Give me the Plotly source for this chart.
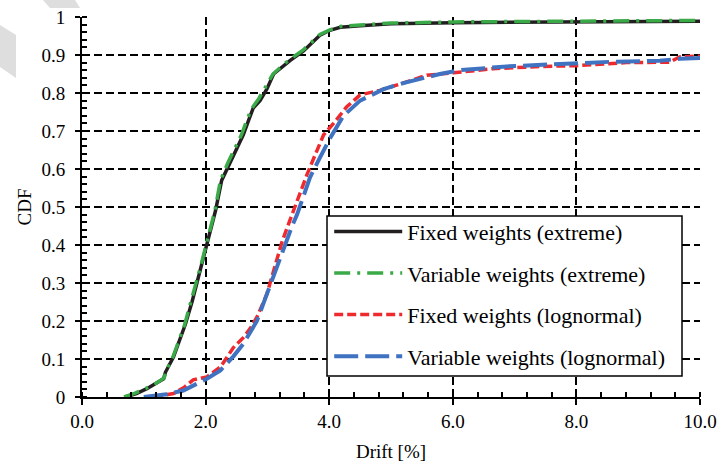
import plotly.graph_objects as go

# ---------------- data ----------------
fixed_ext_x = [0.70, 0.88, 1.05, 1.20, 1.32, 1.35, 1.48, 1.58, 1.67, 1.78, 1.86, 1.94, 2.01,
               2.08, 2.16, 2.26, 2.40, 2.52, 2.61, 2.70, 2.77, 2.88, 2.99, 3.10, 3.25, 3.37,
               3.58, 3.75, 3.85, 4.01, 4.18, 4.50, 5.00, 6.00, 7.00, 8.00, 9.00, 10.00]
fixed_ext_y = [0.000, 0.009, 0.022, 0.035, 0.048, 0.065, 0.105, 0.150, 0.190, 0.250, 0.300, 0.350, 0.395,
               0.440, 0.490, 0.570, 0.620, 0.660, 0.690, 0.730, 0.760, 0.780, 0.810, 0.850, 0.870, 0.886,
               0.910, 0.935, 0.952, 0.965, 0.973, 0.977, 0.982, 0.985, 0.986, 0.987, 0.988, 0.989]

var_ext_x = [0.68, 0.86, 1.05, 1.20, 1.33, 1.36, 1.47, 1.57, 1.66, 1.76, 1.85, 1.93, 2.00,
             2.07, 2.15, 2.24, 2.37, 2.49, 2.58, 2.67, 2.75, 2.86, 2.97, 3.09, 3.24, 3.36,
             3.57, 3.74, 3.85, 4.01, 4.18, 4.50, 5.00, 6.00, 7.00, 8.00, 9.00, 10.00]
var_ext_y = [0.000, 0.010, 0.024, 0.036, 0.050, 0.068, 0.105, 0.150, 0.190, 0.250, 0.300, 0.350, 0.395,
             0.440, 0.490, 0.570, 0.620, 0.660, 0.690, 0.730, 0.760, 0.785, 0.815, 0.850, 0.872, 0.888,
             0.912, 0.937, 0.954, 0.966, 0.975, 0.979, 0.984, 0.987, 0.988, 0.989, 0.990, 0.991]

fixed_logn_x = [1.16, 1.48, 1.65, 1.80, 2.02, 2.24, 2.45, 2.61, 2.72, 2.83, 2.99, 3.15, 3.24,
                3.33, 3.42, 3.53, 3.64, 3.78, 3.91, 4.07, 4.28, 4.50, 4.82, 5.25, 5.58, 6.01,
                6.65, 7.46, 8.00, 8.81, 9.51, 9.67, 10.00]
fixed_logn_y = [0.000, 0.009, 0.025, 0.045, 0.053, 0.079, 0.130, 0.156, 0.180, 0.210, 0.270, 0.360, 0.410,
                0.450, 0.490, 0.540, 0.585, 0.640, 0.690, 0.720, 0.763, 0.795, 0.807, 0.829, 0.847, 0.853,
                0.864, 0.870, 0.872, 0.880, 0.881, 0.895, 0.897]

var_logn_x = [1.00, 1.37, 1.64, 2.02, 2.24, 2.45, 2.61, 2.83, 2.99, 3.21, 3.30, 3.40, 3.48,
              3.69, 3.85, 4.01, 4.23, 4.50, 4.88, 5.20, 5.79, 6.12, 6.87, 7.73, 8.54, 9.35,
              9.67, 10.00]
var_logn_y = [0.000, 0.007, 0.017, 0.048, 0.070, 0.107, 0.140, 0.200, 0.270, 0.370, 0.410, 0.450, 0.480,
              0.578, 0.630, 0.680, 0.740, 0.780, 0.810, 0.826, 0.850, 0.860, 0.870, 0.877, 0.882, 0.885,
              0.890, 0.892]

series_names = ["Fixed weights (extreme)", "Variable weights (extreme)",
                "Fixed weights (lognormal)", "Variable weights (lognormal)"]

x_tick_vals = [0, 2, 4, 6, 8, 10]
x_tick_text = ["0.0", "2.0", "4.0", "6.0", "8.0", "10.0"]
y_tick_vals = [0, 0.1, 0.2, 0.3, 0.4, 0.5, 0.6, 0.7, 0.8, 0.9, 1.0]
y_tick_text = ["0", "0.1", "0.2", "0.3", "0.4", "0.5", "0.6", "0.7", "0.8", "0.9", "1"]

# ---------------- figure ----------------
FONT = "Liberation Serif"
styles = [
    dict(color="#231f20", width=3.5, dash="solid"),
    dict(color="#3aaa48", width=3.5, dash="16px,7px,3px,7px"),
    dict(color="#ee2a2e", width=3.5, dash="9px,4px"),
    dict(color="#3f72c0", width=4, dash="24px,7px"),
]
data = [(fixed_ext_x, fixed_ext_y), (var_ext_x, var_ext_y),
        (fixed_logn_x, fixed_logn_y), (var_logn_x, var_logn_y)]

fig = go.Figure()
for i, ((xs, ys), name, st) in enumerate(zip(data, series_names, styles)):
    fig.add_trace(go.Scatter(x=xs, y=ys, mode="lines", name=name, line=st,
                             legendgroup=f"g{i}"))

# plot area in page pixels: x 82..700, y 17..397
def px2paper(px, py):
    return (px - 82) / 618.0, (397 - py) / 380.0

def poly(points):
    pts = [px2paper(a, b) for a, b in points]
    return "M" + " L".join(f"{a:.4f},{b:.4f}" for a, b in pts) + " Z"

# light grey watermark fragments (top-left corner of the page)
for pts in [[(43, 0), (75, 0), (80, 8), (50, 8)],
            [(0, 25), (16, 35), (16, 78), (0, 67)]]:
    fig.add_shape(type="path", path=poly(pts), xref="paper", yref="paper",
                  fillcolor="#dedede", line=dict(width=0), layer="below")

# legend frame (white box behind the legend entries)
lx0, ly0 = px2paper(327, 376)
lx1, ly1 = px2paper(682, 216)
fig.add_shape(type="rect", x0=lx0, y0=ly0, x1=lx1, y1=ly1, xref="paper", yref="paper",
              fillcolor="white", line=dict(color="black", width=1.5), layer="above")

grid = dict(showgrid=True, gridcolor="black", gridwidth=1.6, griddash="8px,4px")

fig.update_layout(
    width=718, height=467,
    margin=dict(l=82, r=18, t=17, b=70),
    paper_bgcolor="white", plot_bgcolor="white",
    font=dict(family=FONT, size=19, color="black"),
    showlegend=True,
    legend=dict(x=0.400, y=0.051, xanchor="left", yanchor="bottom",
                bgcolor="rgba(0,0,0,0)", borderwidth=0,
                font=dict(family=FONT, size=22, color="black"),
                tracegroupgap=10, itemwidth=68),
    xaxis=dict(range=[0, 10], tickvals=x_tick_vals, ticktext=x_tick_text,
               automargin=False, ticklabeloverflow="allow",
               showline=True, linecolor="black", linewidth=2,
               ticks="outside", ticklen=6, tickwidth=2, tickcolor="black",
               ticklabelstandoff=0,
               minor=dict(ticks="inside", ticklen=5, dtick=0.4, tickwidth=1.5,
                          tickcolor="black", showgrid=False),
               zeroline=False,
               title=dict(text="Drift [%]", font=dict(family=FONT, size=19), standoff=14),
               **grid),
    yaxis=dict(range=[0, 1], tickvals=y_tick_vals, ticktext=y_tick_text,
               automargin=False, ticklabeloverflow="allow",
               showline=True, linecolor="black", linewidth=2,
               ticks="outside", ticklen=5, tickwidth=2, tickcolor="black",
               ticklabelstandoff=6,
               minor=dict(ticks="inside", ticklen=5, dtick=0.02, tickwidth=1.5,
                          tickcolor="black", showgrid=False),
               zeroline=False,
               title=dict(text="CDF", font=dict(family=FONT, size=19), standoff=5),
               **grid),
)

fig.write_html("out.html", config={"displayModeBar": False},
               post_script="document.body.style.margin='0';document.body.style.overflow='hidden';")
